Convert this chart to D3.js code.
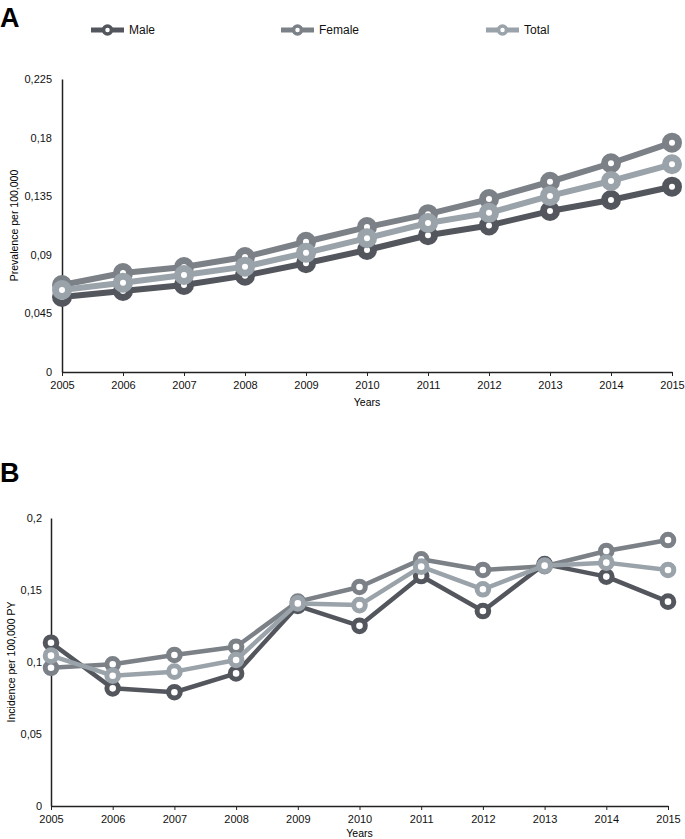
<!DOCTYPE html>
<html>
<head>
<meta charset="utf-8">
<script src="https://cdn.jsdelivr.net/npm/d3@7"></script>
<style>
    body { margin: 0; background: #fff; }
    svg { font-family: "Liberation Sans", Arial, sans-serif; }
</style>
</head>
<body>
<div id="chart"></div>
<script>
var years = [2005, 2006, 2007, 2008, 2009, 2010, 2011, 2012, 2013, 2014, 2015];
var seriesNames = ['Male', 'Female', 'Total'];

// panel A - prevalence
var prevMale   = [0.0576, 0.0622, 0.0668, 0.074, 0.0835, 0.0937, 0.105, 0.1125, 0.1236, 0.1321, 0.1423];
var prevFemale = [0.0668, 0.076, 0.0806, 0.0883, 0.1, 0.1113, 0.1212, 0.1328, 0.1461, 0.1603, 0.1761];
var prevTotal  = [0.063, 0.0686, 0.0745, 0.0809, 0.0915, 0.1028, 0.1144, 0.1222, 0.1352, 0.1467, 0.1595];
var prevTicks  = [0, 0.045, 0.09, 0.135, 0.18, 0.225];

// panel B - incidence
var incMale   = [0.1134, 0.0817, 0.079, 0.0921, 0.139, 0.1251, 0.1597, 0.1354, 0.168, 0.1593, 0.1419];
var incFemale = [0.096, 0.0984, 0.1049, 0.1106, 0.1419, 0.1521, 0.1713, 0.1639, 0.1665, 0.1771, 0.1847];
var incTotal  = [0.1044, 0.0905, 0.0933, 0.1014, 0.1407, 0.1395, 0.1662, 0.1505, 0.1669, 0.169, 0.1639];
var incTicks  = [0, 0.05, 0.1, 0.15, 0.2];

var colors = { Male: '#53565d', Female: '#7c8188', Total: '#9aa2aa' };

var locale = d3.formatLocale({ decimal: ',', thousands: '.', grouping: [3], currency: ['', ''] });
var fmt = function(d) { return locale.format('~g')(d); };

var svg = d3.select('#chart').append('svg')
    .attr('width', 685)
    .attr('height', 839);

var Panel = function(opts) {
    this.opts = opts;
};

Panel.prototype = {
    constructor: Panel,
    draw: function(root) {
        var o = this.opts;
        var g = root.append('g');

        var x = d3.scalePoint().domain(years).range([o.left, o.right]);
        var y = d3.scaleLinear().domain([0, o.ticks[o.ticks.length - 1]]).range([o.bottom, o.top]);

        g.append('text')
            .attr('x', 0).attr('y', o.letterY)
            .attr('font-size', 27).attr('font-weight', 'bold')
            .text(o.letter);

        var xAxis = g.append('g')
            .attr('transform', 'translate(0,' + o.bottom + ')')
            .call(d3.axisBottom(x).tickSize(4).tickSizeOuter(0));
        xAxis.select('.domain').attr('stroke', '#222').attr('stroke-width', 1.5);
        xAxis.selectAll('.tick line').attr('stroke', '#222');
        xAxis.selectAll('.tick text').attr('font-size', 11).attr('fill', '#111').attr('dy', '0.95em');

        var yAxis = g.append('g')
            .attr('transform', 'translate(' + o.left + ',0)')
            .call(d3.axisLeft(y).tickValues(o.ticks).tickFormat(fmt).tickSize(0).tickPadding(o.pad));
        yAxis.select('.domain').attr('stroke', '#222').attr('stroke-width', 1.5);
        yAxis.selectAll('.tick text').attr('font-size', 11).attr('fill', '#111');

        g.append('text')
            .attr('x', (o.left + o.right) / 2).attr('y', o.bottom + o.titleGap)
            .attr('text-anchor', 'middle').attr('font-size', 10.5)
            .text('Years');

        g.append('text')
            .attr('transform', 'translate(' + o.yTitleX + ',' + (o.top + o.bottom) / 2 + ') rotate(-90)')
            .attr('text-anchor', 'middle').attr('font-size', 10.5)
            .text(o.yTitle);

        var line = d3.line()
            .x(function(d, i) { return x(years[i]); })
            .y(function(d) { return y(d); });

        seriesNames.forEach(function(name) {
            var vals = o.data[name];
            var s = g.append('g');
            s.append('path')
                .attr('d', line(vals))
                .attr('fill', 'none')
                .attr('stroke', colors[name])
                .attr('stroke-width', o.lineWidth)
                .attr('stroke-linejoin', 'round');
            s.selectAll('circle').data(vals).enter().append('circle')
                .attr('cx', function(d, i) { return x(years[i]); })
                .attr('cy', function(d) { return y(d); })
                .attr('r', o.markR)
                .attr('fill', '#fff')
                .attr('stroke', colors[name])
                .attr('stroke-width', o.markW);
        });
    }
};

// legend
var legend = svg.append('g');
var legendX = [91, 281, 486];
seriesNames.forEach(function(name, i) {
    var lg = legend.append('g').attr('transform', 'translate(' + legendX[i] + ',30)');
    lg.append('line')
        .attr('x1', 0).attr('x2', 33).attr('y1', 0).attr('y2', 0)
        .attr('stroke', colors[name]).attr('stroke-width', 5);
    lg.append('circle')
        .attr('cx', 16.5).attr('cy', 0).attr('r', 4)
        .attr('fill', '#fff').attr('stroke', colors[name]).attr('stroke-width', 3.5);
    lg.append('text')
        .attr('x', 38).attr('y', 0).attr('dy', '0.35em')
        .attr('font-size', 12).attr('fill', '#111')
        .text(name);
});

new Panel({
    letter: 'A', letterY: 27,
    left: 62, right: 672, top: 79, bottom: 372,
    ticks: prevTicks, pad: 10, titleGap: 34,
    yTitle: 'Prevalence per 100,000', yTitleX: 18,
    data: { Male: prevMale, Female: prevFemale, Total: prevTotal },
    lineWidth: 6, markR: 6.5, markW: 7
}).draw(svg);

new Panel({
    letter: 'B', letterY: 482,
    left: 51, right: 668, top: 518, bottom: 806,
    ticks: incTicks, pad: 9, titleGap: 31,
    yTitle: 'Incidence per 100,000 PY', yTitleX: 15,
    data: { Male: incMale, Female: incFemale, Total: incTotal },
    lineWidth: 4.5, markR: 5.8, markW: 5
}).draw(svg);
</script>
</body>
</html>
